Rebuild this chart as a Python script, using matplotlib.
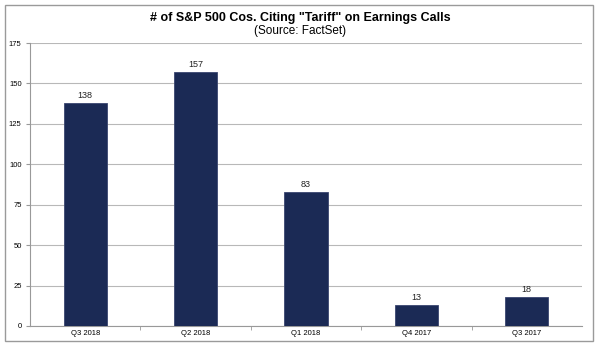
import matplotlib
matplotlib.use("Agg")
import matplotlib.pyplot as plt
from matplotlib.patches import Rectangle

categories = ["Q3 2018", "Q2 2018", "Q1 2018", "Q4 2017", "Q3 2017"]
values = [138, 157, 83, 13, 18]
yticks = [0, 25, 50, 75, 100, 125, 150, 175]

plt.rcParams['font.family'] = ['Liberation Sans', 'DejaVu Sans']

fig = plt.figure(figsize=(6, 3.5), dpi=100)
fig.patch.set_facecolor("white")
fig.patches.append(Rectangle((5/600, 1-341/350), 588/600, 336/350, transform=fig.transFigure,
                             fill=False, edgecolor="#9a9a9a", linewidth=1))

ax = fig.add_axes([30/600, 1-326/350, 552/600, 283/350])
x = list(range(len(categories)))
bars = ax.bar(x, values, width=0.39, color="#1b2a55", edgecolor="#3a4670", linewidth=0.6, zorder=3)
for xi, v in zip(x, values):
    ax.text(xi, v + 2, str(v), ha="center", va="bottom", fontsize=6.5, color="#222222")

ax.set_xlim(-0.5, len(categories) - 0.5)
ax.set_ylim(0, 175)
ax.set_yticks(yticks)
ax.set_yticklabels([str(t) for t in yticks], fontsize=5.5)
ax.yaxis.grid(True, color="#b8b8b8", linewidth=0.8, zorder=0)
ax.set_xticks(x)
ax.set_xticklabels(categories, fontsize=5.5)
ax.tick_params(axis="x", length=0, pad=3)
ax.set_xticks([i + 0.5 for i in range(len(categories) - 1)], minor=True)
ax.tick_params(axis="x", which="minor", length=3, color="#999999")
ax.tick_params(axis="y", length=3, color="#999999", pad=3)
for s in ["top", "right"]:
    ax.spines[s].set_visible(False)
for s in ["left", "bottom"]:
    ax.spines[s].set_color("#999999")
    ax.spines[s].set_linewidth(0.8)

fig.text(0.5, 1-18/350, '# of S&P 500 Cos. Citing "Tariff" on Earnings Calls', ha="center", va="center",
         fontsize=9, fontweight="bold")
fig.text(0.5, 1-31/350, '(Source: FactSet)', ha="center", va="center", fontsize=8.5)

fig.savefig("out.png", dpi=100)
